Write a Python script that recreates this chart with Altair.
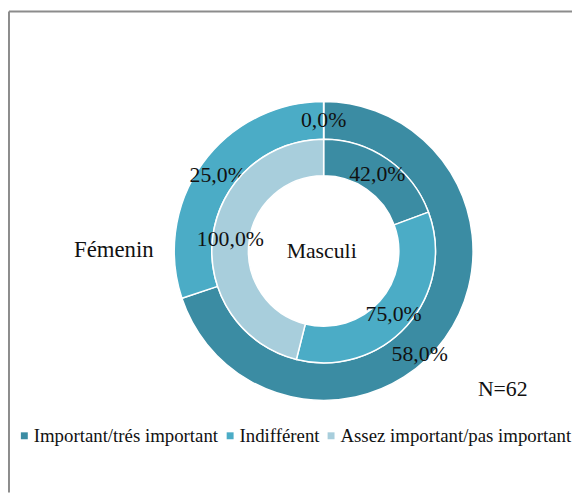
import altair as alt
import pandas as pd

categories = ["Important/trés important", "Indifférent", "Assez important/pas important"]
colors = ["#3B8CA3", "#4BACC6", "#A8CEDC"]
feminin = [58.0, 25.0, 0.0]
masculin = [42.0, 75.0, 100.0]
ring_names = ["Fémenin", "Masculi"]
note = "N=62"

rows = []
for ring, vals in [(ring_names[0], feminin), (ring_names[1], masculin)]:
    for i, (c, v) in enumerate(zip(categories, vals)):
        rows.append({"ring": ring, "category": c, "value": v, "order": i,
                     "label": f"{v:.1f}%".replace(".", ",")})
df = pd.DataFrame(rows)

W, H = 570, 487
CX, CY = 319, 243
FONT = "Liberation Serif"

color = alt.Color(
    "category:N",
    scale=alt.Scale(domain=categories, range=colors),
    sort=categories,
    legend=alt.Legend(
        title=None, orient="none", legendX=7, legendY=420, direction="horizontal",
        symbolType="square", symbolSize=49, symbolStrokeWidth=0,
        labelFont=FONT, labelFontSize=19, labelColor="#111111", labelLimit=0,
        columnPadding=2, symbolOffset=0, labelOffset=0, padding=0,
    ),
)

theta = alt.Theta("value:Q", stack="normalize")
order = alt.Order("order:Q")


def ring(name, r_out, r_in, r_lab, shift_first=False):
    base = alt.Chart(df).transform_filter(alt.datum.ring == name)
    arc = base.mark_arc(outerRadius=r_out, innerRadius=r_in, stroke="white", strokeWidth=1.5).encode(
        theta=theta, color=color, order=order, x=alt.value(CX), y=alt.value(CY)
    )
    tstyle = dict(font=FONT, fontSize=22, color="#111111")
    common = dict(theta=theta, order=order, x=alt.value(CX), y=alt.value(CY))
    if not shift_first:
        txt = base.mark_text(radius=r_lab, **tstyle).encode(text="label:N", **common)
        return arc + txt
    rest = base.mark_text(radius=r_lab, **tstyle).encode(
        text=alt.condition(alt.datum.order == 0, alt.value(""), alt.Text("label:N")), **common
    )
    first = base.mark_text(radius=r_lab, dx=-10, dy=27, **tstyle).encode(
        text=alt.condition(alt.datum.order == 0, alt.Text("label:N"), alt.value("")), **common
    )
    return arc + rest + first


outer = ring(ring_names[0], 151, 113, 132, shift_first=True)
inner = ring(ring_names[1], 113, 76, 95)

ann = pd.DataFrame({"t": [ring_names[0], ring_names[1], note],
                    "px": [107, CX - 2, 500], "py": [242, CY, 383],
                    "fs": [23, 22, 22]})
annot = alt.Chart(ann).mark_text(font=FONT, color="#111111").encode(
    text="t:N", x=alt.X("px:Q", scale=None), y=alt.Y("py:Q", scale=None),
    size=alt.Size("fs:Q", scale=None, legend=None)
)

frame_df = pd.DataFrame({"a": [0]})
top_line = alt.Chart(frame_df).mark_rule(color="#8C8C8C", strokeWidth=2).encode(
    x=alt.value(1), x2=alt.value(W), y=alt.value(1)
)
left_line = alt.Chart(frame_df).mark_rule(color="#8C8C8C", strokeWidth=2).encode(
    x=alt.value(1), y=alt.value(1), y2=alt.value(H)
)

chart = (
    alt.layer(top_line, left_line, outer, inner, annot)
    .properties(width=W, height=H, autosize=alt.AutoSizeParams(type="none"), padding=0)
    .configure(font=FONT, style={"guide-label": {"font": FONT, "fontSize": 19}})
    .configure_view(stroke=None)
    .configure_legend(labelFont=FONT, labelFontSize=19)
)

chart.save("out.html", embed_options={"renderer": "svg", "actions": False})
